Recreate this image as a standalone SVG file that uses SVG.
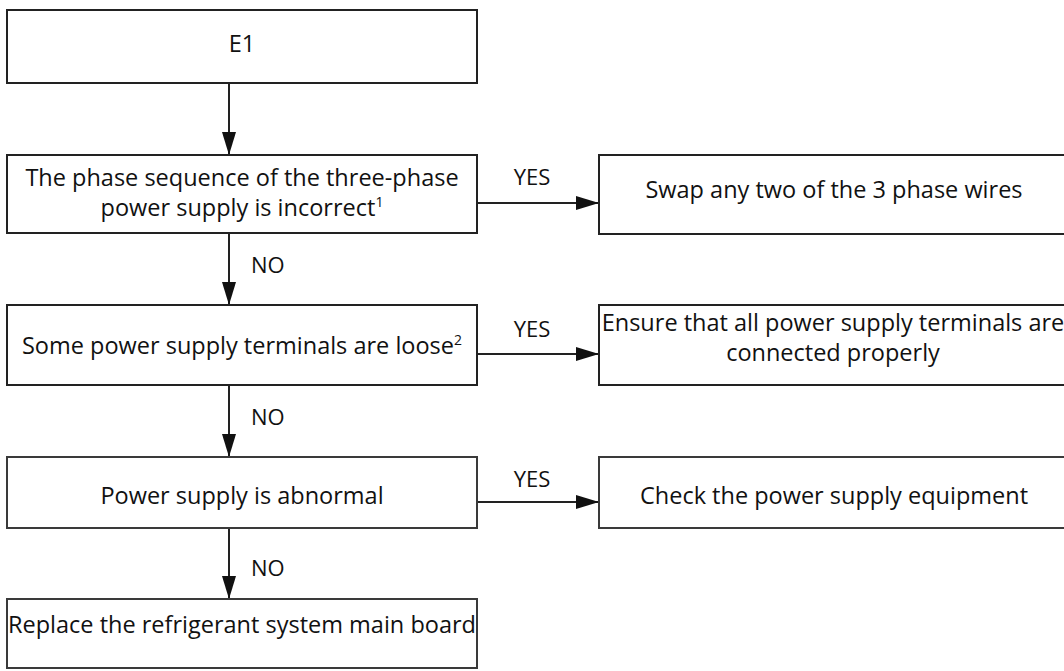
<svg xmlns="http://www.w3.org/2000/svg" width="1064" height="671" viewBox="0 0 1064 671">
<style>
  .box { fill: #ffffff; stroke: #222222; stroke-width: 2; }
  .box2 { fill: #ffffff; stroke: #3a3a3a; stroke-width: 2; }
  .t { font-family: "Open Sans", "Liberation Sans", sans-serif; font-size: 23.5px; fill: #111111; text-anchor: middle; }
  .lbl { font-family: "Open Sans", "Liberation Sans", sans-serif; font-size: 22px; fill: #111111; }
  .sup { font-size: 14px; }
  .conn { stroke: #222222; stroke-width: 2; fill: none; marker-end: url(#ah); }
</style>
<defs>
  <marker id="ah" markerUnits="userSpaceOnUse" markerWidth="24" markerHeight="14" refX="23" refY="7" orient="auto">
    <path d="M0,0 L23,7 L0,14 Z" fill="#111111"/>
  </marker>
</defs>
<rect width="1064" height="671" fill="#ffffff"/>

<g id="connectors">
  <line class="conn" x1="229" y1="83" x2="229" y2="155"/>
  <line class="conn" x1="229" y1="233" x2="229" y2="305"/>
  <line class="conn" x1="229" y1="385" x2="229" y2="457"/>
  <line class="conn" x1="229" y1="528" x2="229" y2="599"/>
  <line class="conn" x1="477" y1="203" x2="599" y2="203"/>
  <line class="conn" x1="477" y1="354" x2="599" y2="354"/>
  <line class="conn" x1="477" y1="502" x2="599" y2="502"/>
  <text class="lbl" x="251" y="273">NO</text>
  <text class="lbl" x="251" y="425">NO</text>
  <text class="lbl" x="251" y="576">NO</text>
  <text class="lbl" x="532" y="185" text-anchor="middle">YES</text>
  <text class="lbl" x="532" y="337" text-anchor="middle">YES</text>
  <text class="lbl" x="532" y="487" text-anchor="middle">YES</text>
</g>

<g id="n-e1">
  <rect class="box" x="7" y="10" width="470" height="73"/>
  <text class="t" x="242" y="52">E1</text>
</g>

<g id="n-phase">
  <rect class="box" x="7" y="155" width="470" height="78"/>
  <text class="t" x="242" y="186">The phase sequence of the three-phase</text>
  <text class="t" x="242" y="216">power supply is incorrect<tspan class="sup" dy="-9">1</tspan></text>
</g>

<g id="n-swap">
  <rect class="box" x="599" y="155" width="470" height="79"/>
  <text class="t" x="834" y="198">Swap any two of the 3 phase wires</text>
</g>

<g id="n-loose">
  <rect class="box" x="7" y="305" width="470" height="80"/>
  <text class="t" x="242" y="354">Some power supply terminals are loose<tspan class="sup" dy="-9">2</tspan></text>
</g>

<g id="n-ensure">
  <rect class="box" x="599" y="305" width="470" height="80"/>
  <text class="t" x="833" y="331">Ensure that all power supply terminals are</text>
  <text class="t" x="833" y="361">connected properly</text>
</g>

<g id="n-abnormal">
  <rect class="box2" x="7" y="457" width="470" height="71"/>
  <text class="t" x="242" y="504">Power supply is abnormal</text>
</g>

<g id="n-check">
  <rect class="box2" x="599" y="457" width="470" height="71"/>
  <text class="t" x="834" y="504">Check the power supply equipment</text>
</g>

<g id="n-replace">
  <rect class="box2" x="7" y="599" width="470" height="69"/>
  <text class="t" x="242" y="633">Replace the refrigerant system main board</text>
</g>
</svg>
